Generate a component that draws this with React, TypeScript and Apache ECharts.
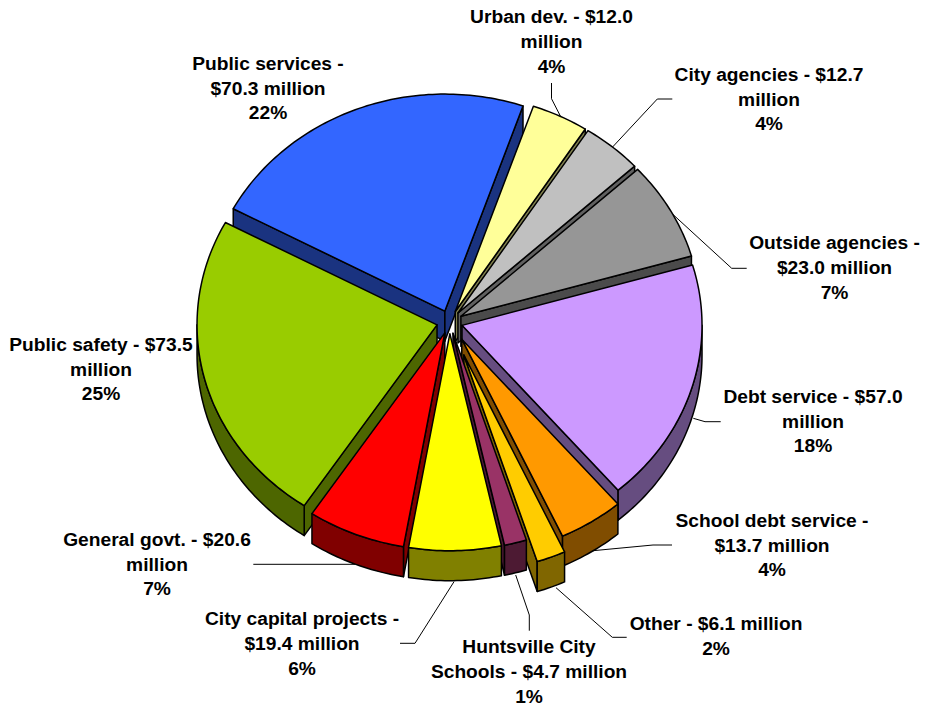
import React, { useEffect, useRef } from "react";
import * as echarts from "echarts";

const categories = ["Urban dev.", "City agencies", "Outside agencies", "Debt service", "School debt service", "Other", "Huntsville City Schools", "City capital projects", "General govt.", "Public safety", "Public services"];
const values = [12.0, 12.7, 23.0, 57.0, 13.7, 6.1, 4.7, 19.4, 20.6, 73.5, 70.3];
const topColors = ["#FFFF99", "#C0C0C0", "#969696", "#CC99FF", "#FF9900", "#FFCC00", "#993366", "#FFFF00", "#FF0000", "#99CC00", "#3366FF"];
const wallColors = ["#80804D", "#606060", "#4B4B4B", "#664D80", "#804D00", "#806600", "#4D1A33", "#808000", "#800000", "#4D6600", "#1A3380"];
const explodes = [0.054, 0.054, 0.054, 0.054, 0.094, 0.163, 0.054, 0.054, 0.054, 0.054, 0.054];

const labelLines = [
  ["Urban dev. - $12.0", "million", "4%"],
  ["City agencies - $12.7", "million", "4%"],
  ["Outside agencies -", "$23.0 million", "7%"],
  ["Debt service - $57.0", "million", "18%"],
  ["School debt service -", "$13.7 million", "4%"],
  ["Other - $6.1 million", "2%"],
  ["Huntsville City", "Schools - $4.7 million", "1%"],
  ["City capital projects -", "$19.4 million", "6%"],
  ["General govt. - $20.6", "million", "7%"],
  ["Public safety - $73.5", "million", "25%"],
  ["Public services -", "$70.3 million", "22%"],
];
const labelCenters = [[551.5, 16.8], [769, 74.3], [834.5, 242.8], [813, 396.3], [772, 520.3], [716, 623.3], [529, 646.8], [302, 618.8], [157, 539.3], [101, 344.3], [268, 63.3]];
const leaders = [
  [[551.5, 83], [551.5, 98.7], [560.7, 116.7]],
  [[672.3, 99], [657.3, 99], [612.3, 147.3]],
  [[746.7, 268.3], [731.7, 268.3], [671.7, 213.3]],
  [[720.7, 421.7], [705, 421.7], [693.3, 418.3]],
  [[672, 545], [653, 545], [593, 550.7]],
  [[626.7, 637.3], [612.3, 637.3], [556, 587.7]],
  [[529.3, 630.7], [529.3, 615], [515.7, 575]],
  [[400, 643.3], [415, 643.3], [454, 581.7]],
  [[253.3, 564.3], [355, 564.3]],
];

const CX = 449.6, CY = 322, RX = 240, RY = 217, DEPTH = 30, START = 19, LINE_H = 24.8;
const total = values.reduce((a, b) => a + b, 0);
const rad = (d: number) => (d * Math.PI) / 180;

let acc = START;
const slices = values.map((v, i) => {
  const s = acc;
  const e = acc + (v / total) * 360;
  acc = e;
  const m = (s + e) / 2;
  const ax = CX + explodes[i] * RX * Math.sin(rad(m));
  const ay = CY - explodes[i] * RY * Math.cos(rad(m));
  return { i, s, e, m, ax, ay, key: -Math.cos(rad(m)) };
});
const drawOrder = [...slices].sort((a, b) => a.key - b.key);

function arcPoints(ax: number, ay: number, a0: number, a1: number) {
  const n = Math.max(2, Math.ceil(Math.abs(a1 - a0)));
  const pts: number[][] = [];
  for (let k = 0; k <= n; k++) {
    const t = rad(a0 + ((a1 - a0) * k) / n);
    pts.push([ax + RX * Math.sin(t), ay - RY * Math.cos(t)]);
  }
  return pts;
}

function renderItem(params: any) {
  const sl = drawOrder[params.dataIndex];
  const { i, s, e, ax, ay } = sl;
  const wallStyle = { fill: wallColors[i], stroke: "#000", lineWidth: 1.5, lineJoin: "round" };
  const topStyle = { fill: topColors[i], stroke: "#000", lineWidth: 1.5, lineJoin: "round" };
  const children: any[] = [];
  const radial = (angle: number) => {
    const [p] = arcPoints(ax, ay, angle, angle);
    children.push({
      type: "polygon",
      shape: { points: [[ax, ay], p, [p[0], p[1] + DEPTH], [ax, ay + DEPTH]] },
      style: wallStyle,
    });
  };
  if (Math.sin(rad(s)) < 0) radial(s);
  if (Math.sin(rad(e)) > 0) radial(e);
  const a0 = Math.max(s, 90), a1 = Math.min(e, 270);
  if (a1 > a0) {
    const top = arcPoints(ax, ay, a0, a1);
    const bottom = top.map((p) => [p[0], p[1] + DEPTH]).reverse();
    children.push({ type: "polygon", shape: { points: [...top, ...bottom] }, style: wallStyle });
  }
  children.push({
    type: "polygon",
    shape: { points: [[ax, ay], ...arcPoints(ax, ay, s, e)] },
    style: topStyle,
  });
  return { type: "group", children };
}

export default function App() {
  const ref = useRef<HTMLDivElement>(null);
  useEffect(() => {
    const chart = echarts.init(ref.current!, null, { renderer: "svg" });
    const graphics: any[] = [];
    leaders.forEach((pts) => {
      graphics.push({
        type: "polyline",
        shape: { points: pts },
        style: { stroke: "#000", lineWidth: 1, fill: "none" },
        silent: true,
      });
    });
    labelLines.forEach((lines, i) => {
      lines.forEach((text, k) => {
        graphics.push({
          type: "text",
          style: {
            text,
            x: labelCenters[i][0],
            y: labelCenters[i][1] + k * LINE_H,
            textAlign: "center",
            textVerticalAlign: "middle",
            font: 'bold 19.2px "Liberation Sans"',
            fill: "#000",
          },
          silent: true,
        });
      });
    });
    chart.setOption({
      animation: false,
      backgroundColor: "#fff",
      graphic: graphics,
      series: [
        {
          type: "custom",
          name: "Budget",
          coordinateSystem: "none",
          silent: true,
          renderItem,
          data: drawOrder.map((s) => ({ name: categories[s.i], value: [values[s.i]] })),
        },
      ],
    });
    return () => chart.dispose();
  }, []);
  return <div ref={ref} style={{ position: "absolute", left: 0, top: 0, width: 925, height: 707 }} />;
}
